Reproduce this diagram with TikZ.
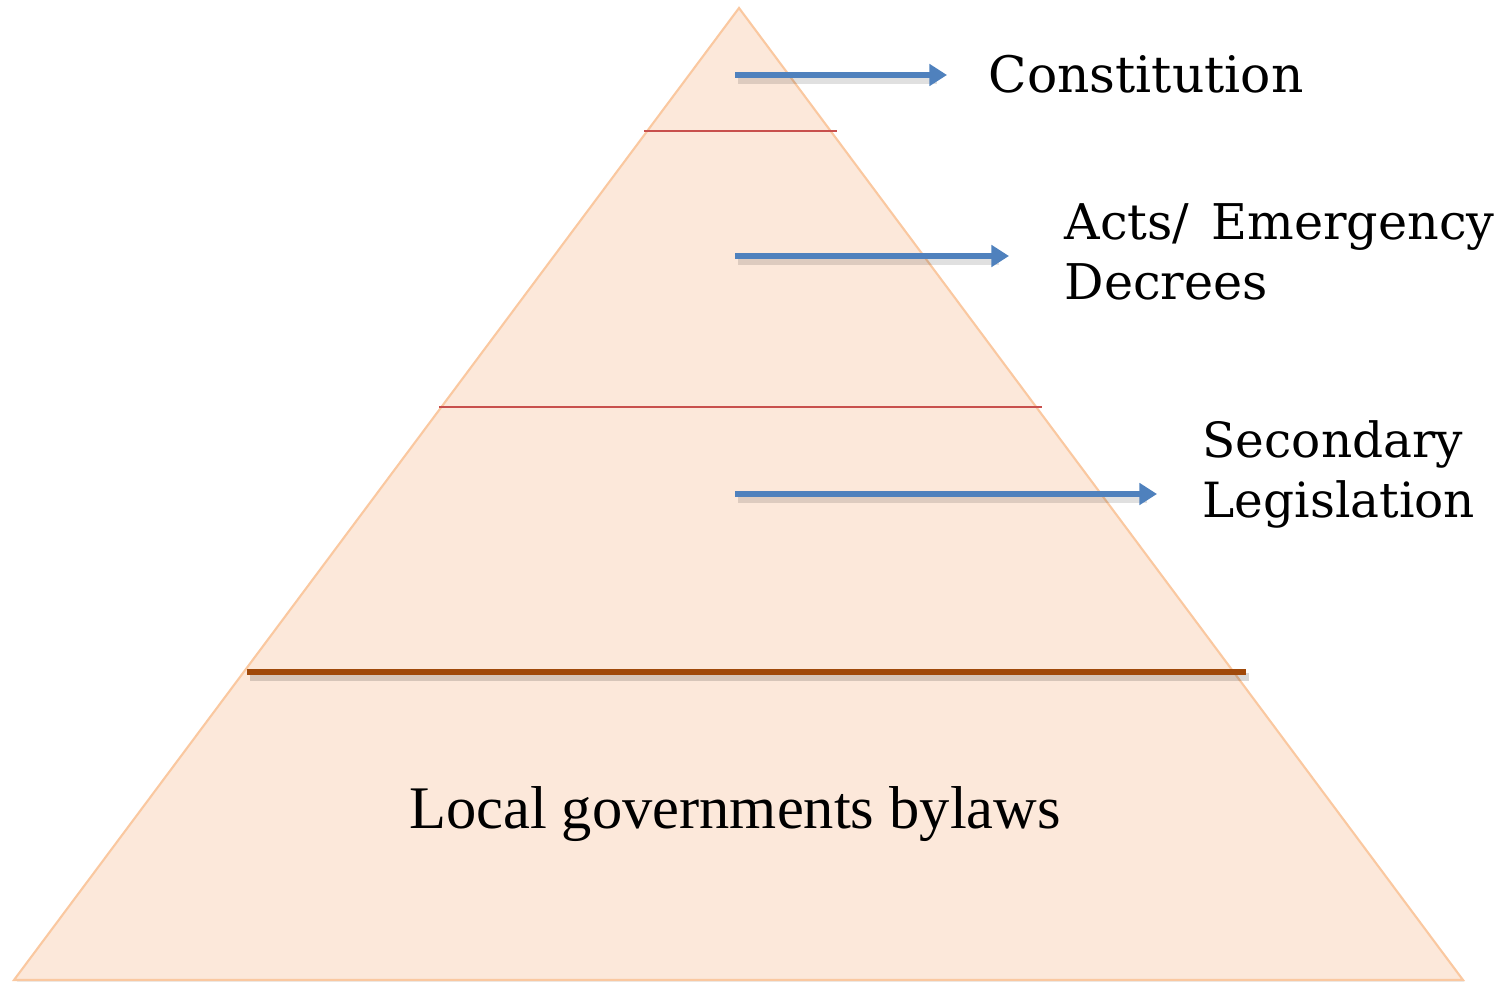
\documentclass[tikz,border=0pt]{standalone}
\usepackage{fontspec}
\setmainfont{Liberation Serif}
\newfontfamily\labelfont{DejaVu Serif}
\usetikzlibrary{arrows.meta}
\definecolor{pyrfill}{RGB}{252,232,218}
\definecolor{pyredge}{RGB}{250,200,160}
\definecolor{redline}{RGB}{200,80,77}
\definecolor{brownline}{RGB}{160,73,10}
\definecolor{arrowblue}{RGB}{79,129,189}
\tikzset{
  px/.style={x=0.01cm,y=-0.01cm},
  levelarrow/.style={draw=arrowblue,line width=1.45pt,-{Triangle[length=5pt,width=6pt]}},
  arrowshadow/.style={draw=black,opacity=0.12,line width=2.2pt},
  thinsep/.style={draw=redline,line width=0.45pt},
  label/.style={font=\labelfont\fontsize{14}{17}\selectfont,anchor=base west,inner sep=0pt,align=left},
}
\begin{document}
\begin{tikzpicture}[px]
\useasboundingbox (0,0) rectangle (1503,982);
\coordinate (apex) at (739,8);
\coordinate (bl) at (14,980);
\coordinate (br) at (1463,980);
% shadow of pyramid
\fill[black,opacity=0.08] (741,11) -- (16,983) -- (1465,983) -- cycle;
\filldraw[fill=pyrfill,draw=pyredge,line width=0.6pt] (apex) -- (bl) -- (br) -- cycle;
% separator lines
\coordinate (s1l) at (644,131);
\coordinate (s1r) at (837,131);
\coordinate (s2l) at (439,407);
\coordinate (s2r) at (1042,407);
\coordinate (s3l) at (247,672);
\coordinate (s3r) at (1246,672);
\draw[thinsep] (s1l) -- (s1r);
\draw[thinsep] (s2l) -- (s2r);
\draw[black,opacity=0.15,line width=2.5pt] ([shift={(3,5)}]s3l) -- ([shift={(3,5)}]s3r);
\draw[brownline,line width=1.6pt] (s3l) -- (s3r);
% labels
\node[label,font=\labelfont\fontsize{14.3}{17}\selectfont] (const) at (988,93) {Constitution};
\node[label] (acts) at (1064,299) {Acts/\hspace{0.45em}Emergency\\Decrees};
\node[label,font=\labelfont\fontsize{13.8}{17}\selectfont] (sec) at (1202,517) {Secondary\\Legislation};
\node[font=\fontsize{17.2}{19}\selectfont,anchor=base,inner sep=0pt] (local) at (735,828) {Local governments bylaws};
% arrows
\coordinate (a1s) at (735,75);
\coordinate (a1e) at (947,75);
\coordinate (a2s) at (735,256);
\coordinate (a2e) at (1009,256);
\coordinate (a3s) at (735,494);
\coordinate (a3e) at (1157,494);
\foreach \s/\e in {a1s/a1e,a2s/a2e,a3s/a3e}{
  \draw[arrowshadow] ([shift={(3,5)}]\s) -- ([shift={(-10,5)}]\e);
  \draw[levelarrow] (\s) -- (\e);
}
\end{tikzpicture}
\end{document}
